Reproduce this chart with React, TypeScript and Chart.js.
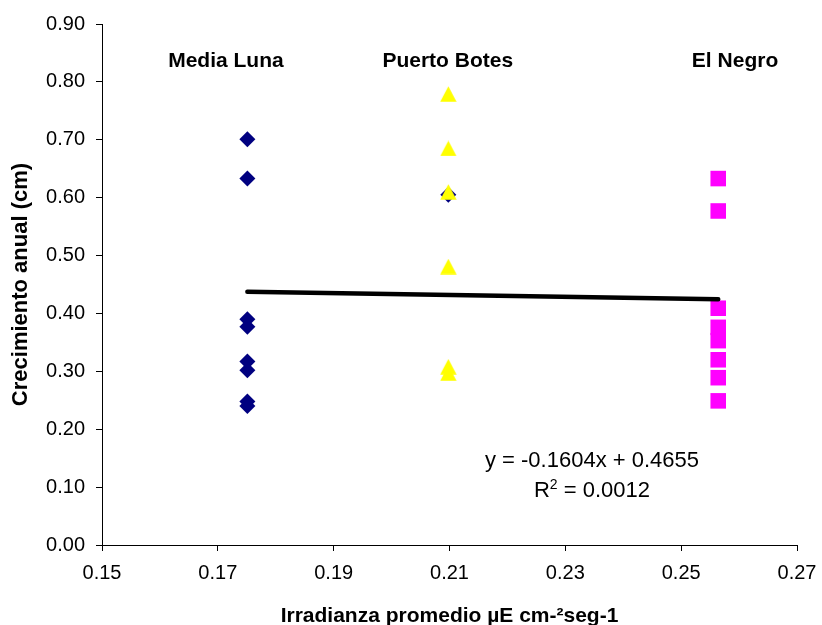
import React, { useEffect, useRef } from 'react';
import { Chart, registerables } from 'chart.js';

Chart.register(...registerables);

// ---- data ----
const siteNames = ['Media Luna', 'Puerto Botes', 'El Negro'];
const mediaLunaX = 0.1751;
const mediaLunaY = [0.701, 0.633, 0.39, 0.377, 0.317, 0.302, 0.248, 0.24];
const puertoBotesX = 0.2098;
const puertoBotesY = [0.779, 0.685, 0.61, 0.481, 0.308, 0.297];
const hiddenDiamondY = [0.605];
const elNegroX = 0.2564;
const elNegroY = [0.633, 0.577, 0.409, 0.376, 0.353, 0.32, 0.289, 0.249];
const trendX = [0.1751, 0.2564];
const trendY = [0.4374, 0.4244];
const xTicks = [0.15, 0.17, 0.19, 0.21, 0.23, 0.25, 0.27];
const yTicks = [0, 0.1, 0.2, 0.3, 0.4, 0.5, 0.6, 0.7, 0.8, 0.9];
const equationText = 'y = -0.1604x + 0.4655';
const r2Value = '0.0012';

// ---- annotation placement (data coordinates) ----
const siteLabelX = [0.1714, 0.2097, 0.2593];
const siteLabelY = 0.826;
const eqX = 0.2346;
const eqY1 = 0.1353;
const eqY2 = 0.0834;

const FONT = '"Liberation Sans", Arial, Helvetica, sans-serif';

const annotationPlugin = {
  id: 'annotationText',
  afterDatasetsDraw(chart: any) {
    const { ctx, scales } = chart;
    const x = scales.x;
    const y = scales.y;
    ctx.save();
    ctx.fillStyle = '#000';
    ctx.textBaseline = 'alphabetic';
    ctx.textAlign = 'center';
    ctx.font = `bold 21px ${FONT}`;
    siteNames.forEach((n, i) => {
      ctx.fillText(n, x.getPixelForValue(siteLabelX[i]), y.getPixelForValue(siteLabelY));
    });
    ctx.font = `22px ${FONT}`;
    const cx = x.getPixelForValue(eqX);
    ctx.fillText(equationText, cx, y.getPixelForValue(eqY1));
    // R² line
    const by = y.getPixelForValue(eqY2);
    const partR = 'R';
    const partRest = ' = ' + r2Value;
    ctx.font = `22px ${FONT}`;
    const wR = ctx.measureText(partR).width;
    const wRest = ctx.measureText(partRest).width;
    ctx.font = `14px ${FONT}`;
    const wSup = ctx.measureText('2').width;
    const total = wR + wSup + wRest;
    let sx = cx - total / 2;
    ctx.textAlign = 'left';
    ctx.font = `22px ${FONT}`;
    ctx.fillText(partR, sx, by);
    sx += wR;
    ctx.font = `14px ${FONT}`;
    ctx.fillText('2', sx, by - 8);
    sx += wSup;
    ctx.font = `22px ${FONT}`;
    ctx.fillText(partRest, sx, by);
    ctx.restore();
  },
};

function makeTriangle(): HTMLCanvasElement {
  const c = document.createElement('canvas');
  c.width = 17;
  c.height = 16;
  const g = c.getContext('2d')!;
  g.fillStyle = '#FFFF00';
  g.beginPath();
  g.moveTo(8.5, 0.3);
  g.lineTo(16.7, 15.7);
  g.lineTo(0.3, 15.7);
  g.closePath();
  g.fill();
  return c;
}

export default function App() {
  const ref = useRef<HTMLCanvasElement | null>(null);
  useEffect(() => {
    if (!ref.current) return;
    const tri = makeTriangle();
    const chart = new Chart(ref.current, {
      type: 'scatter',
      data: {
        datasets: [
          {
            type: 'line',
            label: 'trend',
            data: trendX.map((v, i) => ({ x: v, y: trendY[i] })),
            borderColor: '#000',
            borderWidth: 4.5,
            borderCapStyle: 'round',
            pointRadius: 0,
            fill: false,
            order: 0,
          } as any,
          {
            label: siteNames[1],
            data: puertoBotesY.map((v) => ({ x: puertoBotesX, y: v })),
            pointStyle: tri,
            pointRadius: 8,
            backgroundColor: '#FFFF00',
            borderWidth: 0,
            order: 1,
          } as any,
          {
            label: siteNames[0],
            data: mediaLunaY.map((v) => ({ x: mediaLunaX, y: v })),
            pointStyle: 'rectRot',
            pointRadius: 8,
            backgroundColor: '#000080',
            borderColor: '#000080',
            borderWidth: 0,
            order: 2,
          },
          {
            label: 'hidden',
            data: hiddenDiamondY.map((v) => ({ x: puertoBotesX, y: v })),
            pointStyle: 'rectRot',
            pointRadius: 8,
            backgroundColor: '#000080',
            borderWidth: 0,
            order: 3,
          },
          {
            label: siteNames[2],
            data: elNegroY.map((v) => ({ x: elNegroX, y: v })),
            pointStyle: 'rect',
            pointRadius: 11,
            backgroundColor: '#FF00FF',
            borderWidth: 0,
            order: 2,
          },
        ],
      },
      options: {
        responsive: false,
        animation: false,
        events: [],
        layout: { padding: { left: 0, right: 25, top: 24, bottom: 0 } },
        plugins: {
          legend: { display: false },
          tooltip: { enabled: false },
        },
        scales: {
          x: {
            type: 'linear',
            min: 0.15,
            max: 0.27,
            afterBuildTicks: (s: any) => {
              s.ticks = xTicks.map((v) => ({ value: v }));
            },
            afterFit: (s: any) => {
              s.height = 80;
              s.paddingLeft = 0;
              s.paddingRight = 0;
            },
            ticks: {
              callback: (v: any) => Number(v).toFixed(2),
              font: { size: 20, family: FONT },
              color: '#000',
              padding: 10,
              maxRotation: 0,
              autoSkip: false,
            },
            grid: { drawOnChartArea: false, drawTicks: true, tickLength: 6, color: '#000' },
            border: { color: '#000', width: 1 },
            title: {
              display: true,
              text: 'Irradianza promedio µE cm-²seg-1',
              font: { size: 21, weight: 'bold', family: FONT },
              color: '#000',
              padding: { top: 0, bottom: -4 },
            },
          },
          y: {
            type: 'linear',
            min: 0,
            max: 0.9,
            afterBuildTicks: (s: any) => {
              s.ticks = yTicks.map((v) => ({ value: v }));
            },
            afterFit: (s: any) => {
              s.width = 102;
              s.paddingTop = 0;
              s.paddingBottom = 0;
            },
            ticks: {
              callback: (v: any) => Number(v).toFixed(2),
              font: { size: 20, family: FONT },
              color: '#000',
              padding: 11,
              autoSkip: false,
            },
            grid: { drawOnChartArea: false, drawTicks: true, tickLength: 6, color: '#000' },
            border: { color: '#000', width: 1 },
            title: {
              display: true,
              text: 'Crecimiento anual (cm)',
              font: { size: 22, weight: 'bold', family: FONT },
              color: '#000',
              padding: { top: 8, bottom: 0 },
            },
          },
        },
      },
      plugins: [annotationPlugin],
    });
    return () => chart.destroy();
  }, []);
  return (
    <div style={{ position: 'absolute', left: 0, top: 0, width: 822, height: 625, background: '#fff' }}>
      <canvas ref={ref} width={822} height={625} />
    </div>
  );
}
